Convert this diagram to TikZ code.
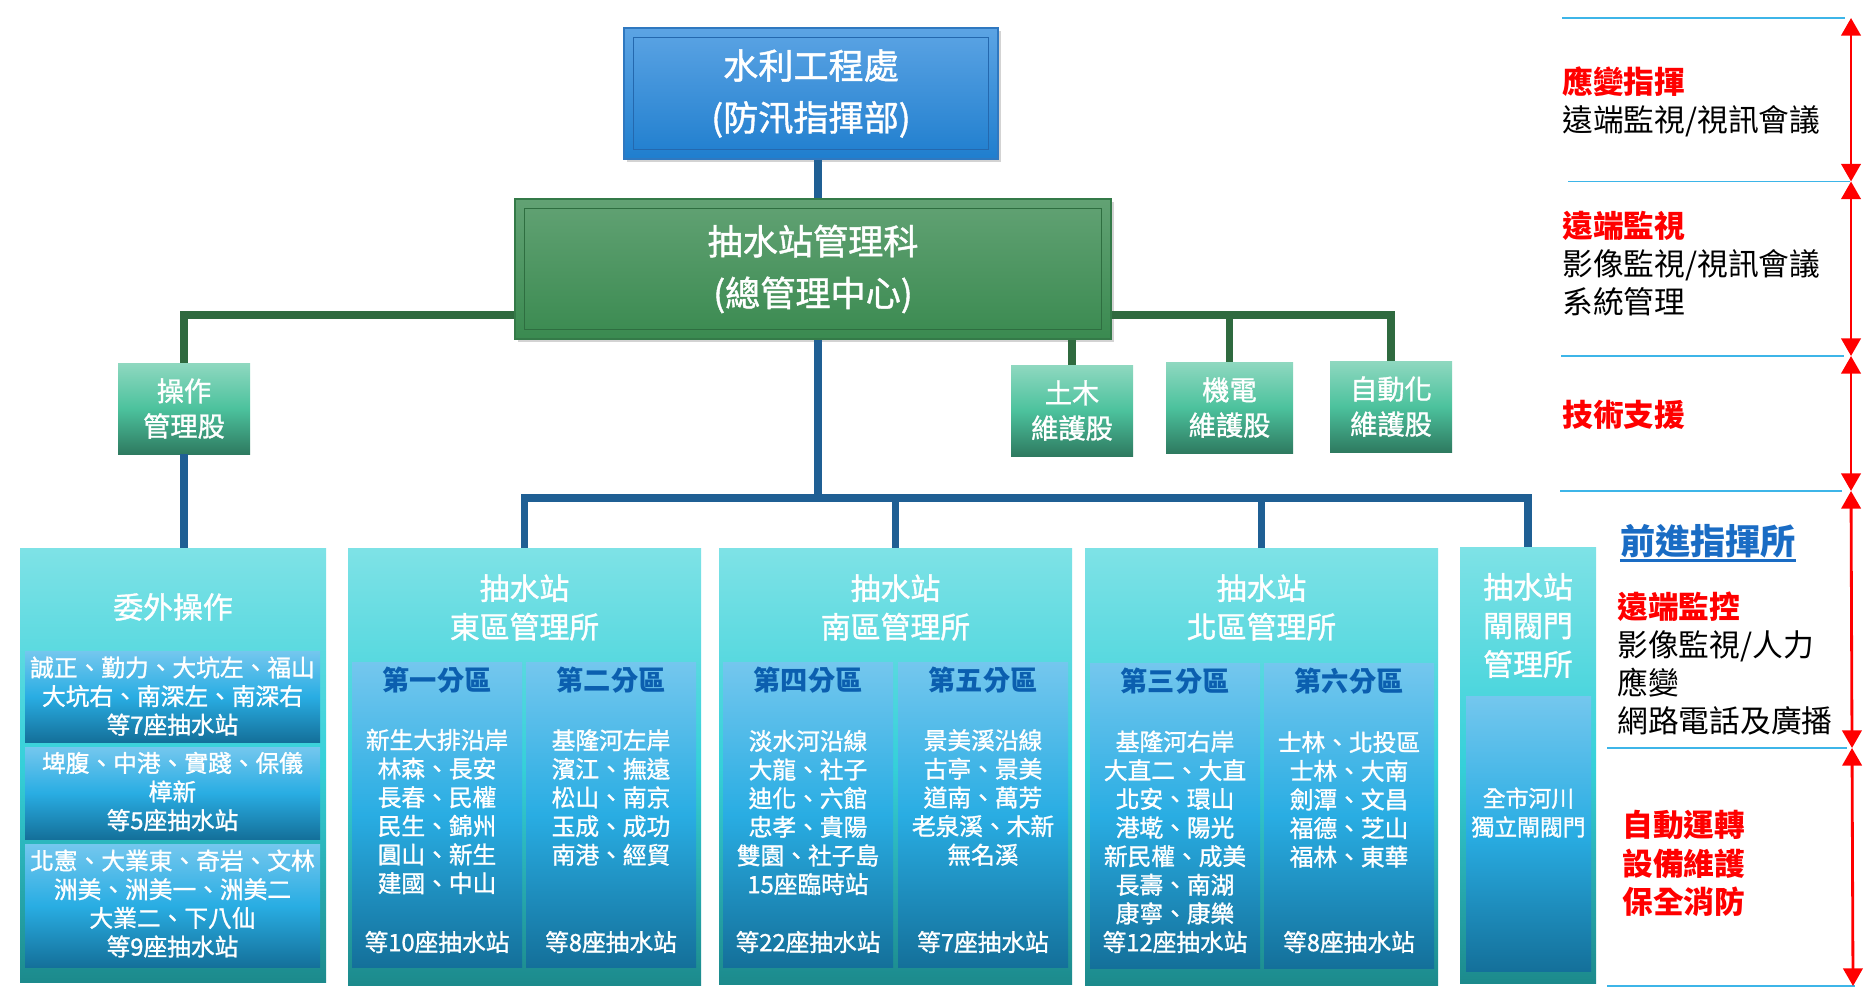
\documentclass[tikz,border=0pt]{standalone}
\usepackage{fontspec}
\setmainfont{Noto Sans CJK TC}
\newfontfamily\medfont{Noto Sans CJK TC}[FakeBold=1.2]
\usetikzlibrary{arrows.meta, shadows}

\definecolor{hqtop}{HTML}{5CA4E4}
\definecolor{hqbot}{HTML}{1F7ECE}
\definecolor{hqedge}{HTML}{2F78C0}
\definecolor{hqframe}{HTML}{2468AE}
\definecolor{ctrtop}{HTML}{62A274}
\definecolor{ctrbot}{HTML}{3A8A50}
\definecolor{ctredge}{HTML}{347A48}
\definecolor{ctrframe}{HTML}{2E6E40}
\definecolor{sectop}{HTML}{8FD8C0}
\definecolor{secmid}{HTML}{4CC29D}
\definecolor{secbot}{HTML}{2E7A60}
\definecolor{offtop}{HTML}{7EE2E6}
\definecolor{offmid}{HTML}{35D0D9}
\definecolor{offbot}{HTML}{1C8A8C}
\definecolor{zonetop}{HTML}{74C7EE}
\definecolor{zonemid}{HTML}{29ADE3}
\definecolor{zonebot}{HTML}{14709A}
\definecolor{zonehd}{HTML}{0B5FAF}
\definecolor{linkblue}{HTML}{1F5F94}
\definecolor{linkgreen}{HTML}{2F6A3F}
\definecolor{seplight}{HTML}{3DB5E8}
\definecolor{alert}{HTML}{FF0000}
\definecolor{fwdblue}{HTML}{1A6CC4}

\begin{document}
\begin{tikzpicture}[x=0.02cm, y=-0.02cm,
    sz/.style 2 args={minimum width=#1*0.02cm, minimum height=#2*0.02cm},
    topbox/.style={shade, line width=0.6pt, inner sep=0, align=center, text=white,
      font=\medfont\fontsize{20}{29.5}\selectfont,
      drop shadow={shadow xshift=1.5pt, shadow yshift=-1.5pt, opacity=0.35}},
    hqbox/.style={topbox, top color=hqtop, bottom color=hqbot, draw=hqedge},
    ctrbox/.style={topbox, top color=ctrtop, bottom color=ctrbot, draw=ctredge},
    secbox/.style={shade, top color=sectop, bottom color=secbot, middle color=secmid,
      inner sep=0, align=center, text=white, font=\medfont\fontsize{15.5}{20}\selectfont},
    offbox/.style={shade, top color=offtop, bottom color=offbot, middle color=offmid, inner sep=0},
    zonebox/.style={shade, top color=zonetop, bottom color=zonebot, middle color=zonemid, inner sep=0},
    bluline/.style={draw=linkblue, line width=4.5pt},
    grnline/.style={draw=linkgreen, line width=4.5pt},
    ttl/.style={text=white, inner sep=0, align=center, font=\medfont\fontsize{17}{22}\selectfont},
    lst/.style={text=white, inner sep=0, align=center, font=\medfont\fontsize{13.5}{16.3}\selectfont},
    zhd/.style={text=zonehd, inner sep=0, font=\bfseries\fontsize{15.5}{18}\selectfont},
    note/.style={inner sep=0, anchor=west, align=left, font=\fontsize{17.5}{21.8}\selectfont},
    sepline/.style={draw=seplight, line width=0.7pt},
    spanarrow/.style={draw=alert, line width=1.6pt,
      {Triangle[width=11pt,length=10pt]}-{Triangle[width=11pt,length=10pt]}}]
  \useasboundingbox (0,0) rectangle (1871,1000);

  % headquarters and management centre
  \node[hqbox, sz={374}{131}] (hq) at (811,93.5) {水利工程處\\(防汛指揮部)};
  \node[ctrbox, sz={596}{140}] (ctr) at (813,269) {抽水站管理科\\(總管理中心)};
  \draw[hqframe, line width=0.8pt] ([shift={(10,10)}]hq.north west) rectangle ([shift={(-10,-10)}]hq.south east);
  \draw[ctrframe, line width=0.8pt] ([shift={(10,10)}]ctr.north west) rectangle ([shift={(-10,-10)}]ctr.south east);

  % sections
  \node[secbox, sz={132}{91}] (ops) at (184,408.5) {操作\\管理股};
  \node[secbox, sz={122}{91}] (civil) at (1072,410.5) {土木\\維護股};
  \node[secbox, sz={127}{91}] (mech) at (1229.5,407.5) {機電\\維護股};
  \node[secbox, sz={122}{91}] (auto) at (1391,406.5) {自動化\\維護股};

  % offices
  \node[offbox, sz={306}{434}] (wo) at (173,765) {};
  \node[offbox, sz={353}{437}] (east) at (524.5,766.5) {};
  \node[offbox, sz={353}{436}] (south) at (895.5,766) {};
  \node[offbox, sz={353}{437}] (north) at (1261.5,766.5) {};
  \node[offbox, sz={136}{436}] (gate) at (1528,765) {};

  % zones
  \node[zonebox, sz={295}{91}] (wa) at (172.5,696.5) {};
  \node[zonebox, sz={295}{92}] (wb) at (172.5,793) {};
  \node[zonebox, sz={295}{123}] (wc) at (172.5,905.5) {};
  \node[zonebox, sz={170}{305}] (z1) at (437,814.5) {};
  \node[zonebox, sz={170}{305}] (z2) at (611,814.5) {};
  \node[zonebox, sz={170}{305}] (z4) at (808,814.5) {};
  \node[zonebox, sz={170}{305}] (z5) at (983,814.5) {};
  \node[zonebox, sz={170}{305}] (z3) at (1175,815.5) {};
  \node[zonebox, sz={170}{305}] (z6) at (1349,815.5) {};
  \node[zonebox, sz={125}{275}] (zg) at (1528.5,833.5) {};

  % links
  \coordinate (trunk) at (818,0);
  \coordinate (gbar) at (0,315);
  \coordinate (bbar) at (0,498);
  \draw[bluline] (hq.south -| trunk) -- (ctr.north -| trunk);
  \draw[grnline] (ctr.west |- gbar) -| (ops.north);
  \draw[grnline] (ctr.east |- gbar) -| (auto.north);
  \draw[grnline] (mech.north) -- (mech.north |- gbar);
  \draw[grnline] (civil.north) -- (civil.north |- ctr.south);
  \draw[bluline] (ops.south) -- (ops.south |- wo.north);
  \draw[bluline] (ctr.south -| trunk) -- (bbar -| trunk);
  \draw[bluline] (east.north) |- (bbar -| gate.north) -- (gate.north);
  \draw[bluline] (south.north) -- (south.north |- bbar);
  \draw[bluline] (north.north) -- (north.north |- bbar);

  % outsourced operation
  \node[ttl] (wo-t) at (173,607) {委外操作};
  \node[lst] (wa-t) at (172.5,696) {誠正、勤力、大坑左、福山\\大坑右、南深左、南深右\\等7座抽水站};
  \node[lst] (wb-t) at (172.5,791.5) {埤腹、中港、實踐、保儀\\樟新\\等5座抽水站};
  \node[lst] (wc-t) at (172.5,903.5) {北憲、大業東、奇岩、文林\\洲美、洲美一、洲美二\\大業二、下八仙\\等9座抽水站};

  % east office
  \node[ttl] (east-t) at (524.5,607.5) {抽水站\\東區管理所};
  \node[zhd] (z1-h) at (437,680) {第一分區};
  \node[zhd] (z2-h) at (611,680) {第二分區};
  \node[lst] (z1-l) at (437,811.5) {新生大排沿岸\\林森、長安\\長春、民權\\民生、錦州\\圓山、新生\\建國、中山};
  \node[lst] (z2-l) at (611,797.5) {基隆河左岸\\濱江、撫遠\\松山、南京\\玉成、成功\\南港、經貿};
  \node[lst] (z1-n) at (437,942) {等10座抽水站};
  \node[lst] (z2-n) at (611,942) {等8座抽水站};

  % south office
  \node[ttl] (south-t) at (895.5,607.5) {抽水站\\南區管理所};
  \node[zhd] (z4-h) at (808,680) {第四分區};
  \node[zhd] (z5-h) at (983,680) {第五分區};
  \node[lst] (z4-l) at (808,812.5) {淡水河沿線\\大龍、社子\\迪化、六館\\忠孝、貴陽\\雙園、社子島\\15座臨時站};
  \node[lst] (z5-l) at (983,797.5) {景美溪沿線\\古亭、景美\\道南、萬芳\\老泉溪、木新\\無名溪};
  \node[lst] (z4-n) at (808,942) {等22座抽水站};
  \node[lst] (z5-n) at (983,942) {等7座抽水站};

  % north office
  \node[ttl] (north-t) at (1261.5,607.5) {抽水站\\北區管理所};
  \node[zhd] (z3-h) at (1175,681) {第三分區};
  \node[zhd] (z6-h) at (1349,681) {第六分區};
  \node[lst] (z3-l) at (1175,827.5) {基隆河右岸\\大直二、大直\\北安、環山\\港墘、陽光\\新民權、成美\\長壽、南湖\\康寧、康樂};
  \node[lst] (z6-l) at (1349,799.5) {士林、北投區\\士林、大南\\劍潭、文昌\\福德、芝山\\福林、東華};
  \node[lst] (z3-n) at (1175,942) {等12座抽水站};
  \node[lst] (z6-n) at (1349,942) {等8座抽水站};

  % gate office
  \node[ttl] (gate-t) at (1528,625.5) {抽水站\\閘閥門\\管理所};
  \node[lst, font=\medfont\fontsize{13}{16.4}\selectfont] (zg-l) at (1528.5,812.5) {全市河川\\獨立閘閥門};

  % duties
  \draw[sepline] (1562,18) -- (1845,18);
  \draw[sepline] (1568,181.5) -- (1850,181.5);
  \draw[sepline] (1561,356) -- (1844,356);
  \draw[sepline] (1560,491) -- (1842,491);
  \draw[sepline] (1607,748) -- (1847,748);
  \draw[sepline] (1607,986) -- (1855,986);
  \coordinate (s0) at (1851,18);
  \coordinate (s1) at (1851,181.5);
  \coordinate (s2) at (1851,356);
  \coordinate (s3) at (1851,491);
  \coordinate (s4) at (1852,748);
  \coordinate (s5) at (1853,986);
  \foreach \a/\b in {s0/s1, s1/s2, s2/s3, s3/s4, s4/s5}
    \draw[spanarrow] (\a) -- (\b);

  \node[note] (d1) at (1562,102) {{\color{alert}\bfseries 應變指揮}\\遠端監視/視訊會議};
  \node[note] (d2) at (1562,263.5) {{\color{alert}\bfseries 遠端監視}\\影像監視/視訊會議\\系統管理};
  \node[note, text=alert, font=\bfseries\fontsize{17.5}{21.8}\selectfont] (d3) at (1562,415) {技術支援};
  \node[inner sep=0, text=fwdblue, font=\bfseries\fontsize{20}{24}\selectfont] (fwd) at (1708,541) {前進指揮所};
  \draw[fwdblue, line width=1.5pt] ([shift={(0,2)}]fwd.south west) -- ([shift={(0,2)}]fwd.south east);
  \node[note] (d5) at (1617,663.5) {{\color{alert}\bfseries 遠端監控}\\影像監視/人力\\應變\\網路電話及廣播};
  \node[note, text=alert, font=\bfseries\fontsize{17.5}{21.8}\selectfont] (d6) at (1622,863.5) {自動運轉\\設備維護\\保全消防};
\end{tikzpicture}
\end{document}
